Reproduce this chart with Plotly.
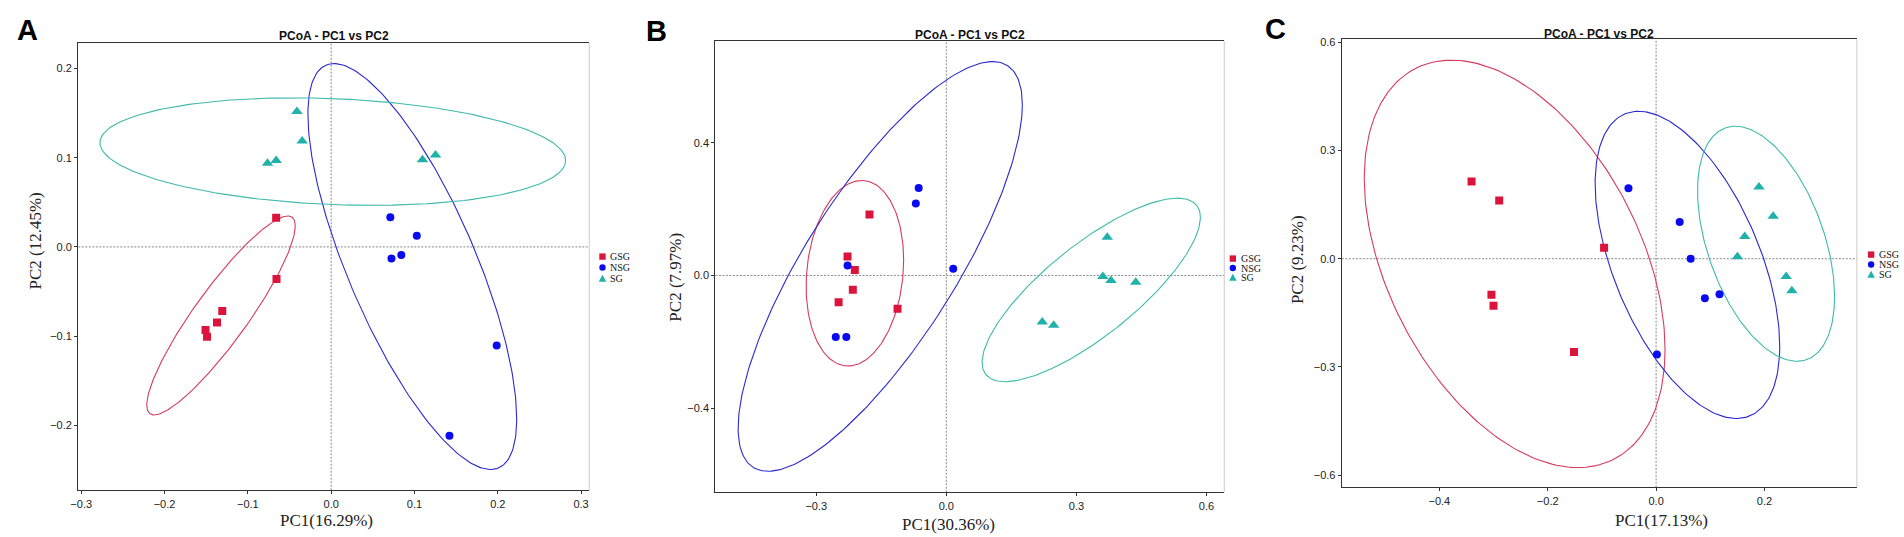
import numpy as np
import plotly.graph_objects as go

W, H = 1904, 537

groups = ["GSG", "NSG", "SG"]

# ---------------- data ----------------
# Panel A
a_gsg_x = [-0.066, -0.0656, -0.1307, -0.137, -0.1508, -0.149]
a_gsg_y = [0.0328, -0.0359, -0.0718, -0.0847, -0.0931, -0.1008]
a_nsg_x = [0.071, 0.1028, 0.0724, 0.0842, 0.1987, 0.142]
a_nsg_y = [0.0332, 0.0126, -0.013, -0.0092, -0.1107, -0.2118]
a_sg_x = [-0.0411, -0.0348, -0.0764, -0.066, 0.1096, 0.1253]
a_sg_y = [0.152, 0.1187, 0.0939, 0.097, 0.0977, 0.103]
# ellipses: centre x, centre y, half-extent x, half-extent y, correlation
a_ell_gsg = [-0.1322, -0.0769, 0.0891, 0.1116, 0.90]
a_ell_nsg = [0.0974, -0.022, 0.1253, 0.2277, -0.75]
a_ell_sg = [0.002, 0.1069, 0.2795, 0.0603, -0.166]

# Panel B
b_gsg_x = [-0.1772, -0.2278, -0.211, -0.2156, -0.2484, -0.1125]
b_gsg_y = [0.1836, 0.0574, 0.0164, -0.0431, -0.081, -0.1005]
b_nsg_x = [-0.0637, -0.0703, -0.2278, 0.0159, -0.255, -0.2306]
b_nsg_y = [0.2636, 0.2164, 0.0297, 0.0205, -0.1856, -0.1856]
b_sg_x = [0.3712, 0.361, 0.3797, 0.4369, 0.2212, 0.2475]
b_sg_y = [0.1149, -0.003, -0.0154, -0.0205, -0.1405, -0.1497]
b_ell_gsg = [-0.2109, 0.0067, 0.1125, 0.2795, 0.14]
b_ell_nsg = [-0.1524, 0.0272, 0.3277, 0.6169, 0.79]
b_ell_sg = [0.3342, -0.0436, 0.2517, 0.2764, 0.79]

# Panel C
c_gsg_x = [-0.3405, -0.2895, -0.096, -0.3038, -0.30, -0.1515]
c_gsg_y = [0.2143, 0.1614, 0.0302, -0.1001, -0.1303, -0.2587]
c_nsg_x = [-0.051, 0.0435, 0.0638, 0.117, 0.09, 0.0015]
c_nsg_y = [0.1954, 0.102, 0.0, -0.0982, -0.1095, -0.2653]
c_sg_x = [0.1898, 0.216, 0.1635, 0.15, 0.24, 0.2505]
c_sg_y = [0.199, 0.118, 0.062, 0.0057, -0.049, -0.0887]
c_ell_gsg = [-0.261, -0.0142, 0.2775, 0.5646, -0.42]
c_ell_nsg = [0.0578, -0.017, 0.1703, 0.4258, -0.53]
c_ell_sg = [0.2029, 0.0416, 0.1264, 0.3258, -0.45]

# tick values
a_xticks = [-0.3, -0.2, -0.1, 0.0, 0.1, 0.2, 0.3]
a_yticks = [-0.2, -0.1, 0.0, 0.1, 0.2]
b_xticks = [-0.3, 0.0, 0.3, 0.6]
b_yticks = [-0.4, 0.0, 0.4]
c_xticks = [-0.4, -0.2, 0.0, 0.2]
c_yticks = [-0.6, -0.3, 0.0, 0.3, 0.6]

panel_letters = ["A", "B", "C"]
plot_title = "PCoA - PC1 vs PC2"
x_titles = ["PC1(16.29%)", "PC1(30.36%)", "PC1(17.13%)"]
y_titles = ["PC2 (12.45%)", "PC2 (7.97%)", "PC2 (9.23%)"]

# ---------------- styling / layout ----------------
marker_colors = {"GSG": "#DC143C", "NSG": "#0A0AF0", "SG": "#20B2AA"}
ellipse_colors = {"GSG": "#D63A5C", "NSG": "#2A2ACF", "SG": "#3DB9AE"}
symbols = {"GSG": "square", "NSG": "circle", "SG": "triangle-up"}
sizes = {"GSG": 8, "NSG": 8, "SG": 10}

# pixel geometry of each panel: frame left, right, top, bottom
frames = [(70.6, 583.7, 40.0, 490.0), (710.4, 1221.4, 38.4, 492.0), (1339.5, 1856.7, 36.6, 487.0)]
ranges_x = [[-0.3035, 0.3098], [-0.5325, 0.641], [-0.5798, 0.3705]]
ranges_y = [[-0.273, 0.229], [-0.653, 0.7056], [-0.6335, 0.608]]
letter_pos = [(20, 27), (651, 28), (1273, 26)]
title_pos = [(327, 33), (966, 32), (1598, 31)]
xtitle_pos = [(320, 520), (944, 524), (1660, 520)]
ytitle_pos = [(28, 239), (670, 276), (1295, 258)]
legend_pos = [(597, 255, 11), (1230, 257, 9.5), (1871, 253, 10)]

data = [
    dict(pts={"GSG": (a_gsg_x, a_gsg_y), "NSG": (a_nsg_x, a_nsg_y), "SG": (a_sg_x, a_sg_y)},
         ell={"GSG": a_ell_gsg, "NSG": a_ell_nsg, "SG": a_ell_sg}, xt=a_xticks, yt=a_yticks),
    dict(pts={"GSG": (b_gsg_x, b_gsg_y), "NSG": (b_nsg_x, b_nsg_y), "SG": (b_sg_x, b_sg_y)},
         ell={"GSG": b_ell_gsg, "NSG": b_ell_nsg, "SG": b_ell_sg}, xt=b_xticks, yt=b_yticks),
    dict(pts={"GSG": (c_gsg_x, c_gsg_y), "NSG": (c_nsg_x, c_nsg_y), "SG": (c_sg_x, c_sg_y)},
         ell={"GSG": c_ell_gsg, "NSG": c_ell_nsg, "SG": c_ell_sg}, xt=c_xticks, yt=c_yticks),
]


def ellipse(params, n=240):
    cx, cy, sx, sy, rho = params
    t = np.linspace(0, 2 * np.pi, n)
    x = cx + sx * np.cos(t)
    y = cy + sy * (rho * np.cos(t) + np.sqrt(1 - rho ** 2) * np.sin(t))
    return x, y


def px(x):
    return x / W


def py(y):
    return 1 - y / H


fig = go.Figure()
annotations = []
shapes = []
SANS = "Liberation Sans, Arial, sans-serif"
SERIF = "Liberation Serif, Times New Roman, serif"

for i, d in enumerate(data):
    k = "" if i == 0 else str(i + 1)
    xa, ya = "x" + k, "y" + k
    for g in groups:
        ex, ey = ellipse(d["ell"][g])
        fig.add_trace(go.Scatter(x=ex, y=ey, mode="lines", xaxis=xa, yaxis=ya,
                                 line=dict(color=ellipse_colors[g], width=1.1),
                                 showlegend=False, hoverinfo="skip", name=g + " ellipse"))
    for g in groups:
        xs, ys = d["pts"][g]
        fig.add_trace(go.Scatter(x=xs, y=ys, mode="markers", xaxis=xa, yaxis=ya, name=g,
                                 marker=dict(symbol=symbols[g], size=sizes[g], color=marker_colors[g],
                                             line=dict(width=0)),
                                 showlegend=False))
    l, r, t, b = frames[i]
    axis_common = dict(ticks="outside", ticklen=3, tickwidth=1, tickcolor="#333",
                       tickfont=dict(family=SANS, size=11, color="#222"),
                       showgrid=False, zeroline=False, showline=True, linecolor="#333",
                       linewidth=1.4, tickformat=".1f")
    fig.update_layout({
        "xaxis" + k: dict(domain=[px(l), px(r)], range=ranges_x[i], tickvals=d["xt"],
                          mirror=True, anchor=ya, **axis_common),
        "yaxis" + k: dict(domain=[py(b), py(t)], range=ranges_y[i], tickvals=d["yt"],
                          mirror=False, anchor=xa, **axis_common),
    })
    # right border (light) and dotted zero reference lines
    shapes.append(dict(type="line", xref=xa + " domain", yref=ya + " domain", x0=1, x1=1, y0=0, y1=1,
                       line=dict(color="#cccccc", width=1)))
    shapes.append(dict(type="line", xref=xa, yref=ya + " domain", x0=0, x1=0, y0=0, y1=1,
                       line=dict(color="#888", width=1, dash="2px,1.5px"), layer="below"))
    shapes.append(dict(type="line", xref=xa + " domain", yref=ya, x0=0, x1=1, y0=0, y1=0,
                       line=dict(color="#888", width=1, dash="2px,1.5px"), layer="below"))

    # texts
    lx, ly = letter_pos[i]
    annotations.append(dict(text="<b>%s</b>" % panel_letters[i], x=px(lx), y=py(ly), xref="paper", yref="paper",
                            showarrow=False, xanchor="center", yanchor="middle",
                            font=dict(family=SANS, size=29, color="#000")))
    tx, ty = title_pos[i]
    annotations.append(dict(text="<b>%s</b>" % plot_title, x=px(tx), y=py(ty), xref="paper", yref="paper",
                            showarrow=False, xanchor="center", yanchor="middle",
                            font=dict(family=SANS, size=12, color="#111")))
    xx, xy = xtitle_pos[i]
    annotations.append(dict(text=x_titles[i], x=px(xx), y=py(xy), xref="paper", yref="paper",
                            showarrow=False, xanchor="center", yanchor="middle",
                            font=dict(family=SERIF, size=17, color="#222")))
    yx, yy = ytitle_pos[i]
    annotations.append(dict(text=y_titles[i], x=px(yx), y=py(yy), xref="paper", yref="paper",
                            showarrow=False, xanchor="center", yanchor="middle", textangle=-90,
                            font=dict(family=SERIF, size=17, color="#222")))

    # legend (keys as small shapes, labels as text)
    mx, my, gap = legend_pos[i]
    s = 3.2
    for j, g in enumerate(groups):
        cy = my + j * gap
        if symbols[g] == "square":
            shapes.append(dict(type="rect", xref="paper", yref="paper", x0=px(mx - s), x1=px(mx + s),
                               y0=py(cy + s), y1=py(cy - s), fillcolor=marker_colors[g], line=dict(width=0)))
        elif symbols[g] == "circle":
            shapes.append(dict(type="circle", xref="paper", yref="paper", x0=px(mx - s), x1=px(mx + s),
                               y0=py(cy + s), y1=py(cy - s), fillcolor=marker_colors[g], line=dict(width=0)))
        else:
            path = "M %f %f L %f %f L %f %f Z" % (px(mx - s - 0.6), py(cy + s), px(mx + s + 0.6), py(cy + s),
                                                 px(mx), py(cy - s - 0.6))
            shapes.append(dict(type="path", xref="paper", yref="paper", path=path,
                               fillcolor=marker_colors[g], line=dict(width=0)))
        annotations.append(dict(text=g, x=px(mx + 6), y=py(cy), xref="paper", yref="paper",
                                showarrow=False, xanchor="left", yanchor="middle",
                                font=dict(family=SERIF, size=10, color="#111")))

fig.update_layout(width=W, height=H, margin=dict(l=0, r=0, t=0, b=0),
                  paper_bgcolor="white", plot_bgcolor="white", showlegend=False,
                  annotations=annotations, shapes=shapes)

fig.write_html("out.html", config={"displayModeBar": False},
               post_script="document.body.style.margin='0';document.body.style.overflow='hidden';")
